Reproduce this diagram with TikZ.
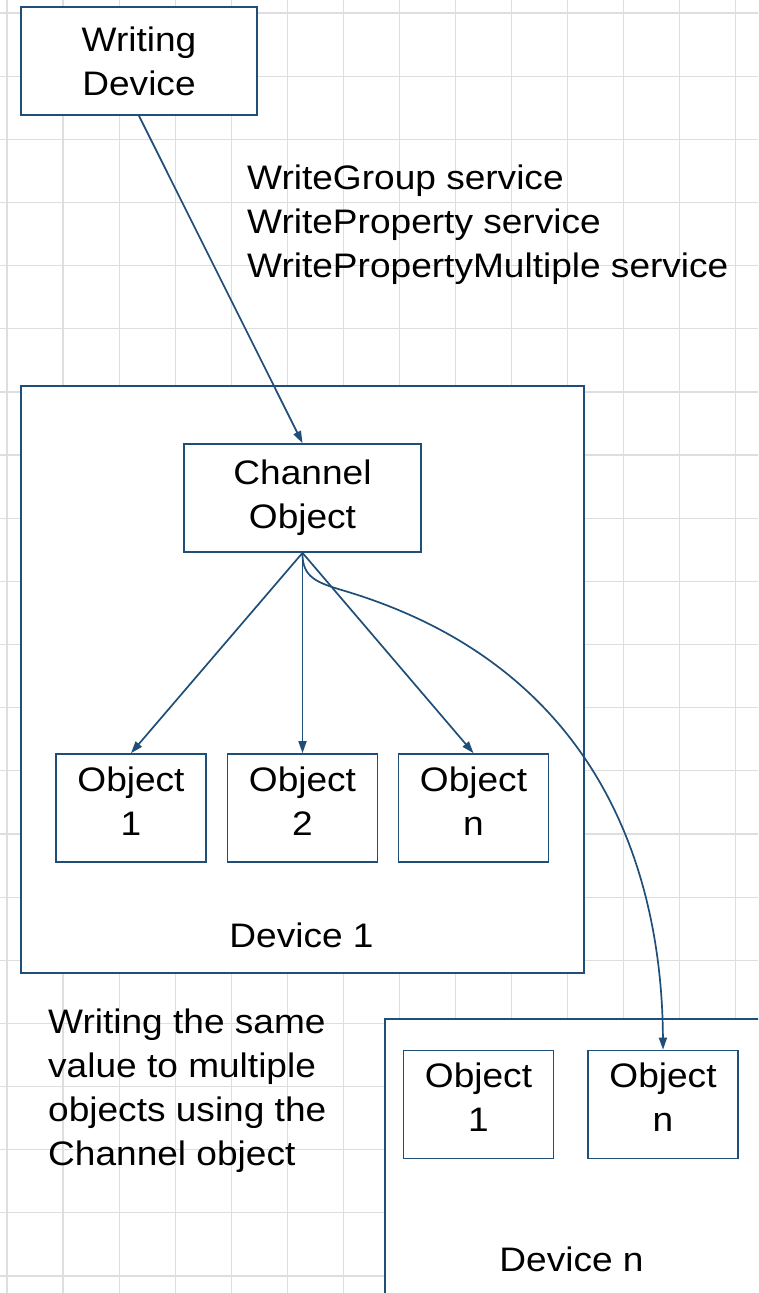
\documentclass[tikz,border=0pt]{standalone}
\usepackage{fontspec}
\setmainfont{Liberation Sans}[FakeStretch=1.09]
\usepackage{tikz}
\usetikzlibrary{arrows.meta}
\definecolor{lineblue}{HTML}{1F4E79}
\definecolor{gridgray}{HTML}{DEDEDE}

\begin{document}
\begin{tikzpicture}[x=1pt, y=-1pt,
  every node/.style={font=\fontsize{34}{44}\selectfont, inner sep=0pt},
  box/.style={draw=lineblue, line width=1.7pt, fill=white, align=center},
  objbox/.style={box, minimum width=150pt, minimum height=108pt, text depth=14pt},
  link/.style={draw=lineblue, line width=1.7pt, -{Triangle[length=12pt,width=8pt]}}]
\useasboundingbox (0,0) rectangle (758,1293);
\clip (0,0) rectangle (758,1293);
\fill[white] (0,0) rectangle (758,1293);
% background grid
\foreach \i in {0,...,13} \draw[gridgray, line width=1.2pt] (7+56.05*\i,0) -- (7+56.05*\i,1293);
\foreach \j in {0,...,20} \draw[gridgray, line width=1.2pt] (0,13+63.15*\j) -- (758,13+63.15*\j);
% devices
\node[box, minimum width=563pt, minimum height=587pt] (dev1) at (302.5,679.5) {};
\node[box, minimum width=400pt, minimum height=300pt] (devn) at (585,1169) {};
\node (dev1lbl) at (301.5,935) {Device 1};
\node (devnlbl) at (571.5,1259) {Device n};
% objects
\node[box, minimum width=236pt, minimum height=108pt] (wdev) at (139,61) {Writing\\Device};
\node[box, minimum width=237pt, minimum height=108pt] (chan) at (302.5,498) {Channel\\Object};
\node[objbox] (obj1) at (131,808) {Object\\1};
\node[objbox] (obj2) at (302.5,808) {Object\\2};
\node[objbox] (objn) at (473.5,808) {Object\\n};
\node[objbox] (dnobj1) at (478.5,1104.5) {Object\\1};
\node[objbox] (dnobjn) at (663,1104.5) {Object\\n};
% texts
\node[anchor=north west, align=left] (svc) at (247,165) {WriteGroup service\\WriteProperty service\\WritePropertyMultiple service};
\node[anchor=north west, align=left] (note) at (48,1009) {Writing the same\\value to multiple\\objects using the\\Channel object};
% connectors
\draw[link] (wdev.south) -- (chan.north);
\draw[link] (chan.south) -- (obj1.north);
\draw[link] (chan.south) -- (obj2.north);
\draw[link] (chan.south) -- (objn.north);
\draw[link] (chan.south) .. controls (302,578) and (318,583) .. (345,591)
  .. controls (605,669) and (662,880) .. (dnobjn.north);
\end{tikzpicture}
\end{document}
